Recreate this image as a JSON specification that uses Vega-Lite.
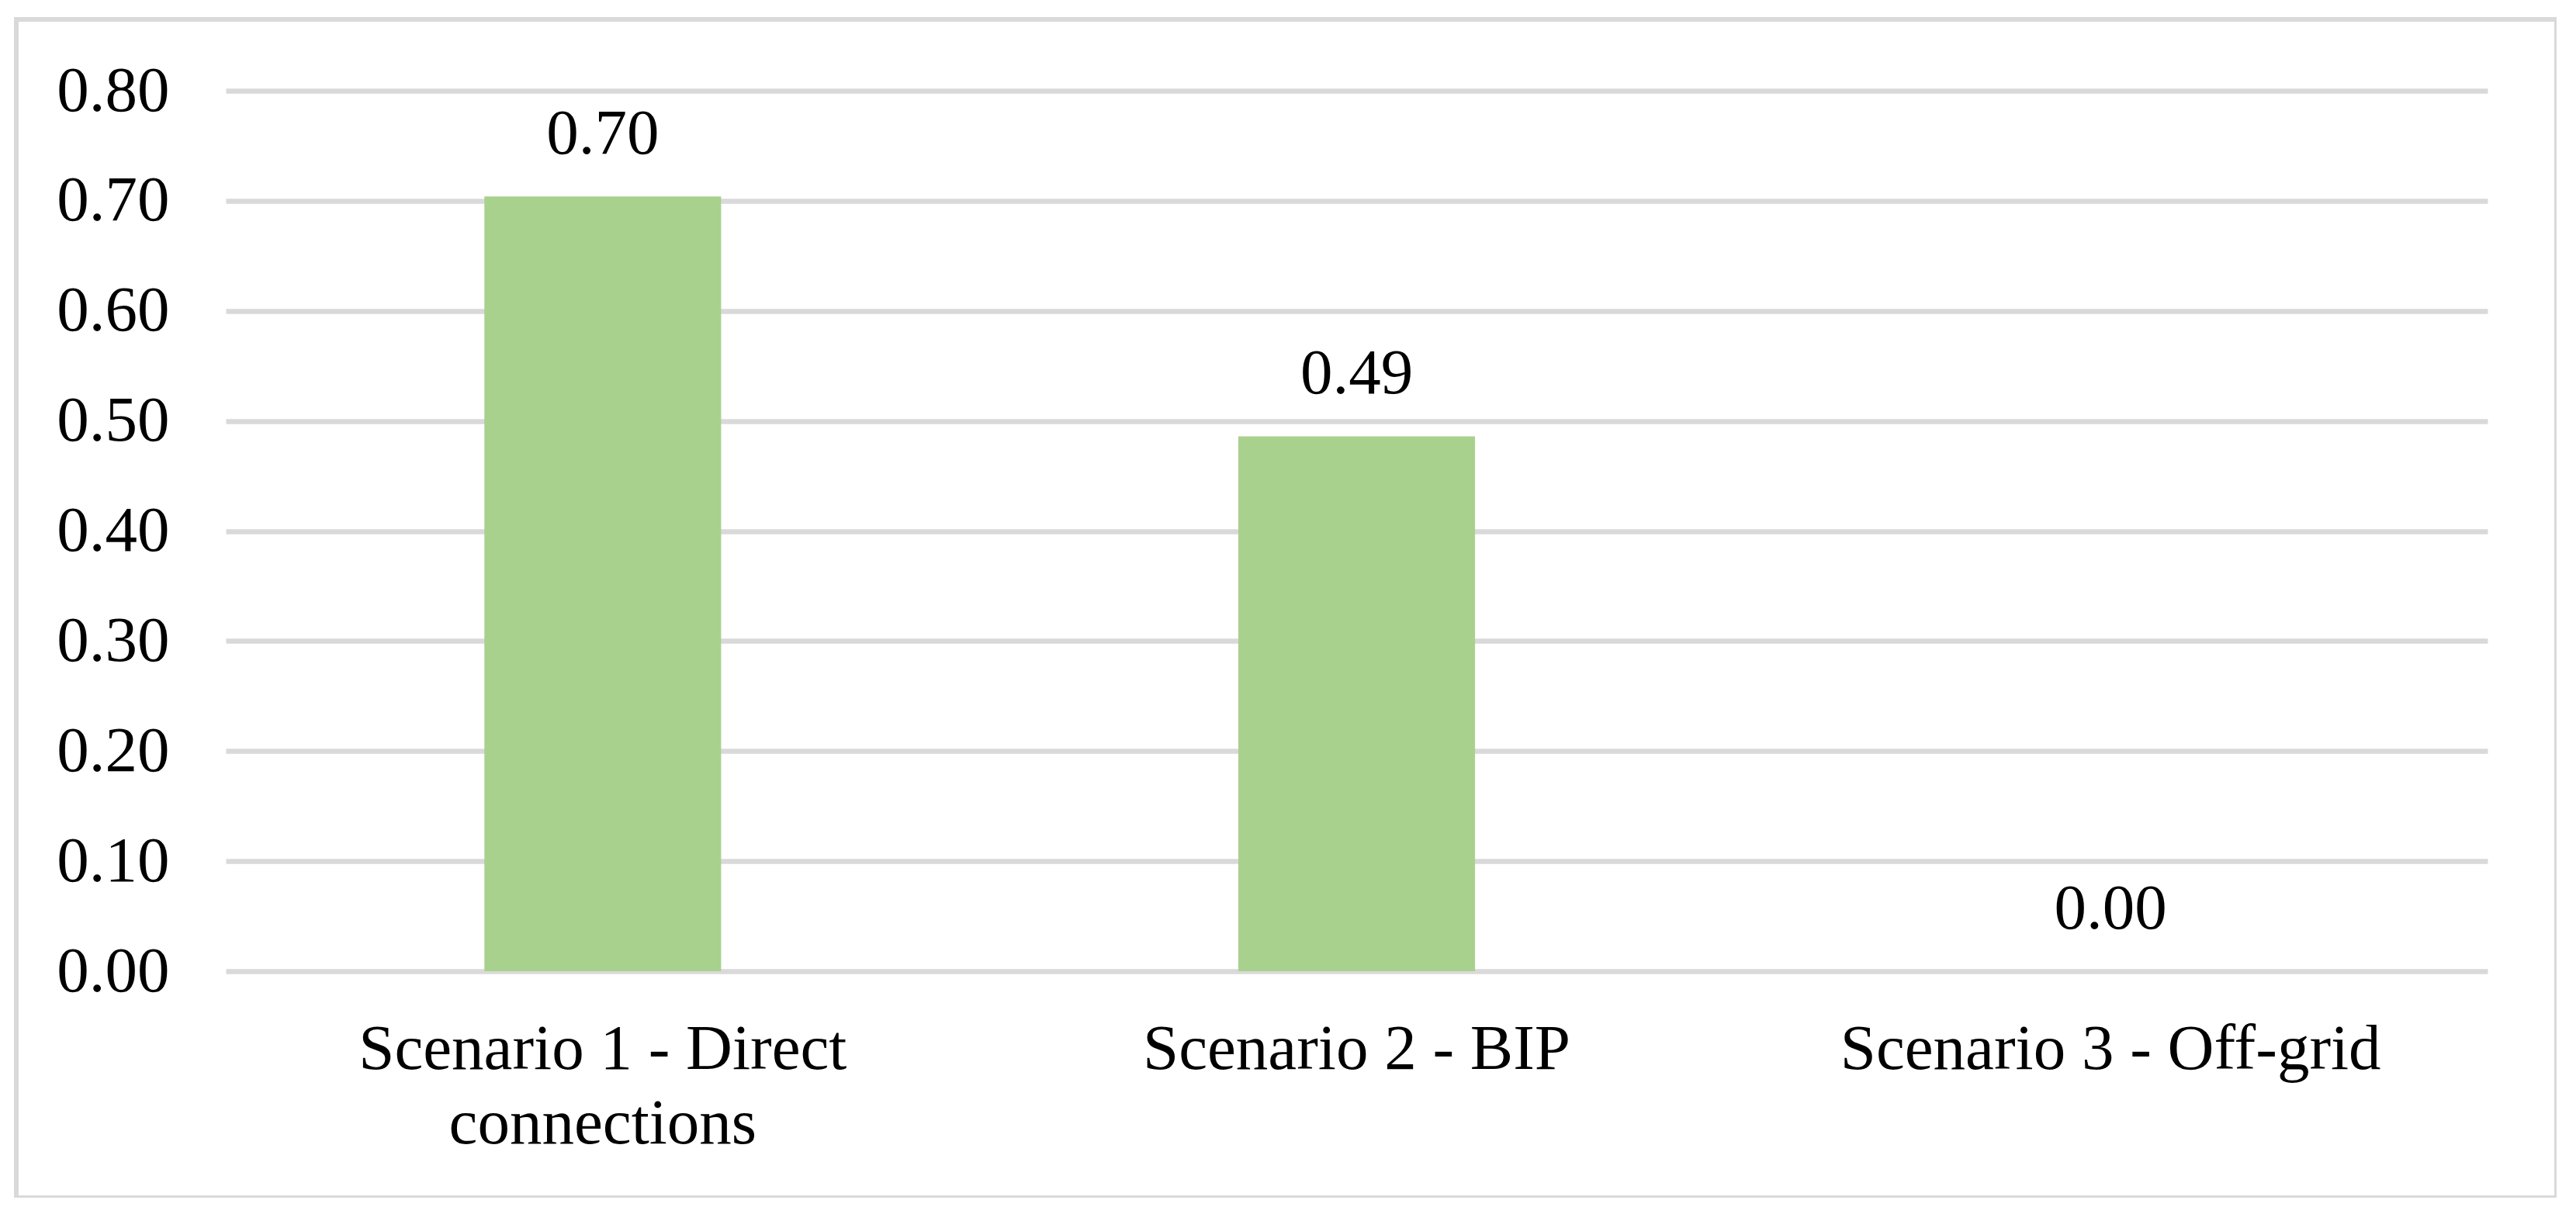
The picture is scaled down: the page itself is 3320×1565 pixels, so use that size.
{
  "$schema": "https://vega.github.io/schema/vega-lite/v6.json",
  "width": 3274,
  "height": 1519,
  "padding": {"left": 21, "top": 25, "right": 0, "bottom": 0},
  "background": "white",
  "config": {
    "font": "Liberation Serif",
    "view": {"stroke": "#D9D9D9", "strokeWidth": 6}
  },
  "data": {
    "values": [
      {"scenario": "Scenario 1 - Direct connections", "value": 0.704},
      {"scenario": "Scenario 2 - BIP", "value": 0.486},
      {"scenario": "Scenario 3 - Off-grid", "value": 0.0}
    ]
  },
  "encoding": {
    "x": {
      "field": "scenario",
      "type": "nominal",
      "sort": null,
      "scale": {"range": [270, 3185], "paddingInner": 0.686, "paddingOuter": 0.343},
      "axis": {
        "orient": "bottom",
        "offset": -292,
        "title": null,
        "domain": false,
        "ticks": false,
        "tickSize": 0,
        "grid": false,
        "labelAngle": 0,
        "labelPadding": 59,
        "labelFontSize": 83,
        "labelColor": "#000000",
        "labelLimit": 0,
        "labelBaseline": "top",
        "labelLineHeight": 96,
        "labelExpr": "datum.value == 'Scenario 1 - Direct connections' ? ['Scenario 1 - Direct', 'connections'] : datum.label"
      }
    },
    "y": {
      "field": "value",
      "type": "quantitative",
      "scale": {"domain": [0, 0.8], "range": [1227, 92], "nice": false},
      "axis": {
        "offset": -270,
        "title": null,
        "values": [0, 0.1, 0.2, 0.3, 0.4, 0.5, 0.6, 0.7, 0.8],
        "format": ".2f",
        "domain": false,
        "ticks": false,
        "tickSize": 0,
        "grid": true,
        "gridColor": "#D9D9D9",
        "gridWidth": 6.5,
        "labelPadding": 73,
        "labelFontSize": 83,
        "labelColor": "#000000",
        "labelLimit": 0
      }
    }
  },
  "layer": [
    {"mark": {"type": "bar", "color": "#A9D18E"}},
    {
      "mark": {"type": "text", "fontSize": 83, "color": "#000000", "baseline": "alphabetic", "dy": -55},
      "encoding": {"text": {"field": "value", "type": "quantitative", "format": ".2f"}}
    }
  ]
}
